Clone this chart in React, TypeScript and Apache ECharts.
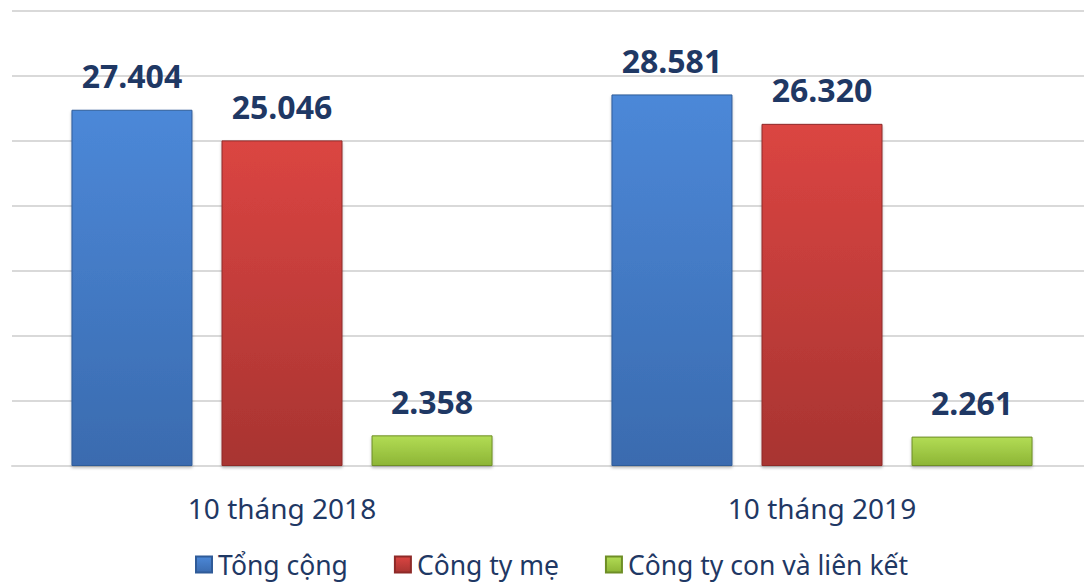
import React, { useEffect, useRef } from "react";
import * as echarts from "echarts";

const categories = ["10 tháng 2018", "10 tháng 2019"];
const seriesNames = ["Tổng cộng", "Công ty mẹ", "Công ty con và liên kết"];
const tongCong = [27.404, 28.581];
const congTyMe = [25.046, 26.32];
const congTyCon = [2.358, 2.261];
const yMin = 0;
const yMax = 35;
const yInterval = 5;

const navy = "#1F3864";

function grad(top: string, bottom: string) {
  return new echarts.graphic.LinearGradient(0, 0, 0, 1, [
    { offset: 0, color: top },
    { offset: 1, color: bottom },
  ]);
}

export default function App() {
  const ref = useRef<HTMLDivElement>(null);
  useEffect(() => {
    if (!ref.current) return;
    const chart = echarts.init(ref.current, null, { renderer: "svg" });
    const label = {
      show: true,
      position: "top" as const,
      distance: 18,
      fontFamily: "Noto Sans",
      fontWeight: "bold" as const,
      fontSize: 32,
      color: navy,
      formatter: (p: any) => Number(p.value).toFixed(3),
    };
    const mk = (name: string, data: number[], top: string, bottom: string, border: string) => ({
      name,
      type: "bar" as const,
      data,
      barWidth: 121,
      barGap: "24%",
      label,
      itemStyle: {
        color: grad(top, bottom),
        borderColor: border,
        borderWidth: 1,
        shadowColor: "rgba(0,0,0,0.25)",
        shadowBlur: 3,
        shadowOffsetY: 2,
      },
    });
    chart.setOption({
      animation: false,
      backgroundColor: "#ffffff",
      grid: { left: 12, top: 11, width: 1080, height: 455, containLabel: false },
      legend: {
        top: 551,
        left: 190,
        padding: [0, 5, 0, 5],
        itemWidth: 16,
        itemHeight: 16,
        itemGap: 46,
        icon: "rect",
        textStyle: { fontFamily: "Noto Sans", fontSize: 26.5, color: navy, padding: [0, 0, 0, 1] },
        data: seriesNames,
      },
      xAxis: {
        type: "category",
        data: categories,
        axisTick: { show: false },
        axisLine: { lineStyle: { color: "#D9D9D9", width: 2 } },
        axisLabel: {
          margin: 28,
          fontFamily: "Noto Sans",
          fontSize: 28,
          color: navy,
        },
      },
      yAxis: {
        type: "value",
        min: yMin,
        max: yMax,
        interval: yInterval,
        axisLabel: { show: false },
        axisLine: { show: false },
        axisTick: { show: false },
        splitLine: { lineStyle: { color: "#D9D9D9", width: 2 } },
      },
      series: [
        mk(seriesNames[0], tongCong, "#4C88D8", "#3A6BAF", "#2F5B98"),
        mk(seriesNames[1], congTyMe, "#DB4542", "#A83431", "#8E2A28"),
        mk(seriesNames[2], congTyCon, "#B2DC55", "#8DB535", "#6E8E26"),
      ],
    });
    return () => chart.dispose();
  }, []);
  return (
    <div style={{ position: "absolute", left: 0, top: 0, width: 1084, height: 587, overflow: "hidden" }}>
      <div ref={ref} style={{ width: 1100, height: 587 }} />
    </div>
  );
}
